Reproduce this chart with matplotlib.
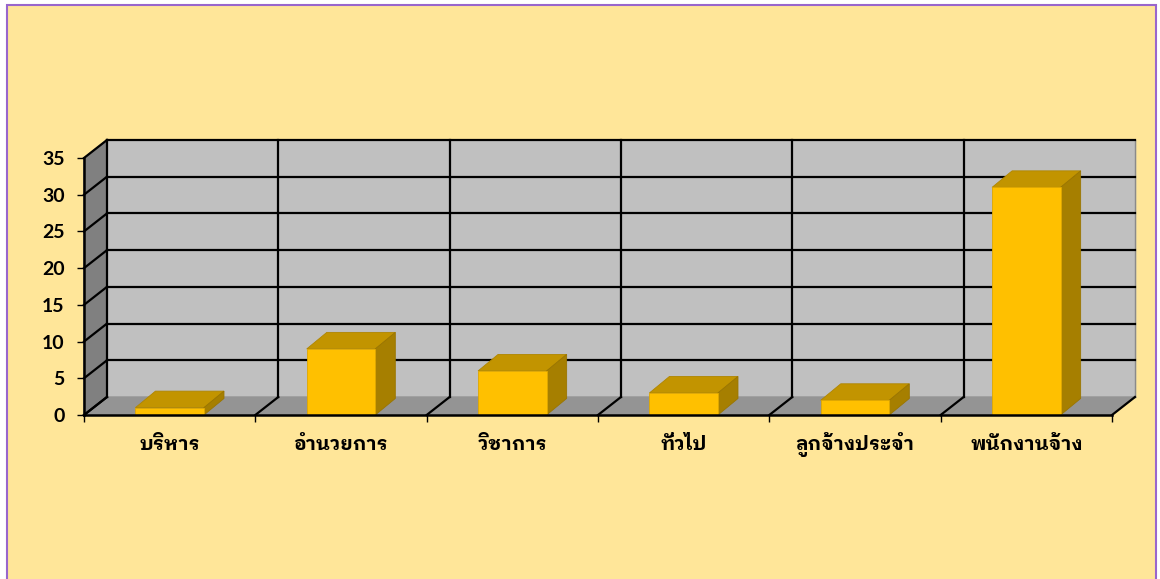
import matplotlib
matplotlib.use('Agg')
import matplotlib.pyplot as plt
from matplotlib.patches import Rectangle

categories = ['บริหาร', 'อำนวยการ', 'วิชาการ', 'ทั่วไป', 'ลูกจ้างประจำ', 'พนักงานจ้าง']
values = [1, 9, 6, 3, 2, 31]
yticks = [0, 5, 10, 15, 20, 25, 30, 35]

plt.rcParams['font.family'] = ['IBM Plex Sans Thai Looped', 'Lato', 'DejaVu Sans']

# depth of the fake 3d box (in data units)
DX, DY = 0.134, 2.45
# bar geometry
BW, BDX, BDY = 0.2, 0.117, 2.25

fig = plt.figure(figsize=(11.6, 5.79), dpi=100, facecolor='white')
fig.patches.append(Rectangle((7 / 1160, -0.05), 1149 / 1160, 1.05 - 5 / 579,
                             transform=fig.transFigure, facecolor='#FFE699',
                             edgecolor='#9966CC', linewidth=1.5, zorder=-1))

ax = fig.add_axes([84 / 1160, 164 / 579, 1028 / 1160, 257 / 579])
ax.patch.set_visible(False)
n = len(categories)
x0, x1 = -0.5, n - 0.5
ymax = yticks[-1]
ax.set_xlim(x0, x1)
ax.set_ylim(0, ymax)

# walls and floor
ax.fill([x0 + DX, x1 + DX, x1 + DX, x0 + DX], [DY, DY, ymax + DY, ymax + DY],
        color='#C0C0C0', clip_on=False, zorder=1)
ax.fill([x0, x0 + DX, x0 + DX, x0], [0, DY, ymax + DY, ymax],
        color='#808080', clip_on=False, zorder=1)
ax.fill([x0, x1, x1 + DX, x0 + DX], [0, 0, DY, DY],
        color='#949494', clip_on=False, zorder=1)
ax.plot([x1 + DX, x1 + DX], [DY, ymax + DY], color='#8A8A8A', lw=1, clip_on=False, zorder=2)

# gridlines
for v in yticks:
    ax.plot([x0, x0 + DX], [v, v + DY], color='black', lw=1.6, clip_on=False, zorder=2)
    if v > 0:
        ax.plot([x0 + DX, x1 + DX], [v + DY, v + DY], color='black', lw=1.6,
                clip_on=False, zorder=2)
for k in range(n + 1):
    b = x0 + k
    if k < n:
        ax.plot([b + DX, b + DX], [DY, ymax + DY], color='black', lw=1.6,
                clip_on=False, zorder=2)
    ax.plot([b, b + DX], [0, DY], color='black', lw=1.6, clip_on=False, zorder=2)

# bars
for i, v in enumerate(values):
    ax.fill([i - BW, i + BW, i + BW + BDX, i - BW + BDX], [v, v, v + BDY, v + BDY],
            facecolor='#C29400', edgecolor='#B08600', lw=0.6, clip_on=False, zorder=3)
    ax.fill([i + BW, i + BW + BDX, i + BW + BDX, i + BW], [0, BDY, v + BDY, v],
            facecolor='#A67F00', edgecolor='#9A7500', lw=0.6, clip_on=False, zorder=3)
    ax.fill([i - BW, i + BW, i + BW, i - BW], [0, 0, v, v],
            facecolor='#FFC000', edgecolor='#E0A800', lw=0.6, clip_on=False, zorder=3)

for side in ['top', 'right']:
    ax.spines[side].set_visible(False)
for side in ['left', 'bottom']:
    ax.spines[side].set_linewidth(1.8)
    ax.spines[side].set_zorder(4)

ax.set_yticks(yticks)
ax.set_yticklabels([str(t) for t in yticks], fontsize=14, fontweight='bold',
                   family=['Lato', 'DejaVu Sans'])
ax.set_xticks([x0 + k for k in range(n + 1)])
ax.set_xticklabels([])
ax.set_xticks(range(n), minor=True)
ax.set_xticklabels(categories, minor=True, fontsize=14, fontweight='bold', va='baseline')
ax.tick_params(axis='y', length=5, width=1, pad=9)
ax.tick_params(axis='x', which='major', length=5, width=1)
ax.tick_params(axis='x', which='minor', length=0, pad=25)

fig.savefig('out.png', dpi=100, facecolor=fig.get_facecolor())
